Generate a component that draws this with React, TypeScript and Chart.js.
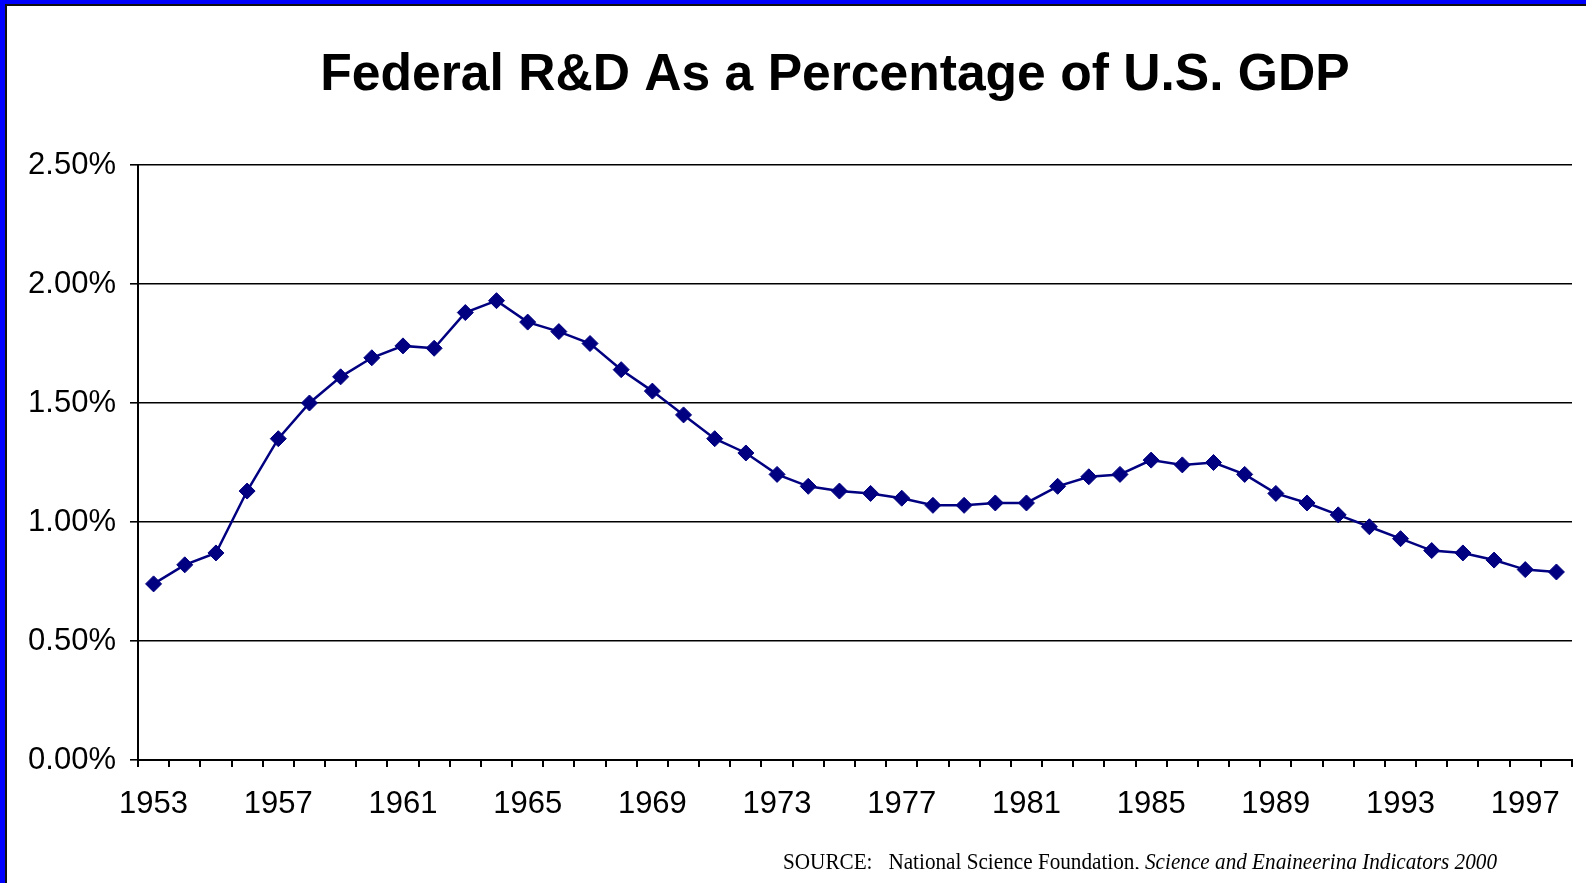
import React, { useEffect, useRef } from "react";
import { Chart, registerables } from "chart.js";

Chart.register(...registerables);

// Federal R&D outlays as a share of GDP, fiscal years 1953-1998 (percent)
const years: string[] = [
  "1953", "1954", "1955", "1956", "1957", "1958", "1959", "1960", "1961", "1962",
  "1963", "1964", "1965", "1966", "1967", "1968", "1969", "1970", "1971", "1972",
  "1973", "1974", "1975", "1976", "1977", "1978", "1979", "1980", "1981", "1982",
  "1983", "1984", "1985", "1986", "1987", "1988", "1989", "1990", "1991", "1992",
  "1993", "1994", "1995", "1996", "1997", "1998",
];

const federalRdShare: number[] = [
  0.74, 0.82, 0.87, 1.13, 1.35, 1.50, 1.61, 1.69, 1.74, 1.73,
  1.88, 1.93, 1.84, 1.80, 1.75, 1.64, 1.55, 1.45, 1.35, 1.29,
  1.20, 1.15, 1.13, 1.12, 1.10, 1.07, 1.07, 1.08, 1.08, 1.15,
  1.19, 1.20, 1.26, 1.24, 1.25, 1.20, 1.12, 1.08, 1.03, 0.98,
  0.93, 0.88, 0.87, 0.84, 0.80, 0.79,
];

const yTicks: number[] = [0, 0.5, 1.0, 1.5, 2.0, 2.5];
const labelEvery = 4;

const titleText = "Federal R&D As a Percentage of U.S. GDP";
const sourceLead = "SOURCE:   National Science Foundation, ";
const sourceWork = "Science and Engineering Indicators 2000";

const W = 1586;
const H = 883;

// Frame, heading and source line drawn around the plot
const decorations = {
  id: "decorations",
  beforeDraw(chart: Chart) {
    const ctx = chart.ctx;
    ctx.save();
    ctx.fillStyle = "#ffffff";
    ctx.fillRect(0, 0, W, H);
    // blue frame along top and left edges with a dark inner rule
    ctx.fillStyle = "#0000ff";
    ctx.fillRect(0, 0, W, 4);
    ctx.fillRect(0, 0, 5, H);
    ctx.fillStyle = "#111111";
    ctx.fillRect(5, 4, W - 5, 2);
    ctx.fillRect(5, 4, 2, H - 4);
    ctx.restore();
  },
  afterDraw(chart: Chart) {
    const ctx = chart.ctx;
    ctx.save();
    ctx.fillStyle = "#000000";
    ctx.font = "bold 51.6px 'Liberation Sans', Arial, sans-serif";
    ctx.textAlign = "center";
    ctx.textBaseline = "alphabetic";
    ctx.fillText(titleText, 835, 90);
    ctx.restore();

    ctx.save();
    ctx.beginPath();
    ctx.rect(0, 0, W, 869);
    ctx.clip();
    ctx.fillStyle = "#000000";
    ctx.textAlign = "left";
    ctx.textBaseline = "alphabetic";
    const regular = "23px 'Liberation Serif', 'Times New Roman', serif";
    const italic = "italic 23px 'Liberation Serif', 'Times New Roman', serif";
    ctx.font = regular;
    const w1 = ctx.measureText(sourceLead).width;
    ctx.font = italic;
    const w2 = ctx.measureText(sourceWork).width;
    const sx = 714 / (w1 + w2);
    ctx.translate(783, 869);
    ctx.scale(sx, 1);
    ctx.font = regular;
    ctx.fillText(sourceLead, 0, 0);
    ctx.font = italic;
    ctx.fillText(sourceWork, w1, 0);
    ctx.restore();
  },
};

export default function App() {
  const canvasRef = useRef<HTMLCanvasElement | null>(null);

  useEffect(() => {
    const canvas = canvasRef.current;
    if (!canvas) return;
    const chart = new Chart(canvas, {
      type: "line",
      data: {
        labels: years,
        datasets: [
          {
            label: "Federal R&D as % of GDP",
            data: federalRdShare,
            borderColor: "#000080",
            backgroundColor: "#000080",
            borderWidth: 2.5,
            pointStyle: "rectRot",
            pointRadius: 8,
            pointHoverRadius: 8,
            pointBackgroundColor: "#000080",
            pointBorderColor: "#000080",
            pointBorderWidth: 1,
            tension: 0,
            clip: false,
          },
        ],
      },
      options: {
        responsive: false,
        animation: false,
        devicePixelRatio: 1,
        layout: { padding: { left: 0, top: 165, right: 14, bottom: 0 } },
        plugins: {
          legend: { display: false },
          title: { display: false },
          tooltip: { enabled: false },
        },
        scales: {
          x: {
            type: "category",
            offset: true,
            afterFit: (scale: any) => {
              scale.height = 123;
            },
            grid: {
              offset: true,
              drawOnChartArea: false,
              drawTicks: true,
              tickLength: 7,
              color: "#000000",
              lineWidth: 2,
            },
            border: { display: true, color: "#000000", width: 2 },
            ticks: {
              autoSkip: false,
              maxRotation: 0,
              minRotation: 0,
              padding: 19,
              color: "#000000",
              font: { family: "'Liberation Sans', Arial, sans-serif", size: 31 },
              callback: (_v: any, i: number) => (i % labelEvery === 0 ? years[i] : ""),
            },
          },
          y: {
            min: yTicks[0],
            max: yTicks[yTicks.length - 1],
            afterFit: (scale: any) => {
              scale.width = 138;
            },
            afterBuildTicks: (scale: any) => {
              scale.ticks = yTicks.map((v) => ({ value: v }));
            },
            grid: {
              color: "#000000",
              lineWidth: 1.6,
              drawTicks: true,
              tickLength: 8,
            },
            border: { display: true, color: "#000000", width: 2 },
            ticks: {
              padding: 14,
              color: "#000000",
              font: { family: "'Liberation Sans', Arial, sans-serif", size: 31 },
              callback: (v: any) => Number(v).toFixed(2) + "%",
            },
          },
        },
      },
      plugins: [decorations],
    });
    return () => chart.destroy();
  }, []);

  return (
    <div
      style={{
        position: "fixed",
        left: 0,
        top: 0,
        width: W,
        height: H,
        background: "#ffffff",
        overflow: "hidden",
      }}
    >
      <canvas ref={canvasRef} width={W} height={H} style={{ display: "block", width: W, height: H }} />
    </div>
  );
}
